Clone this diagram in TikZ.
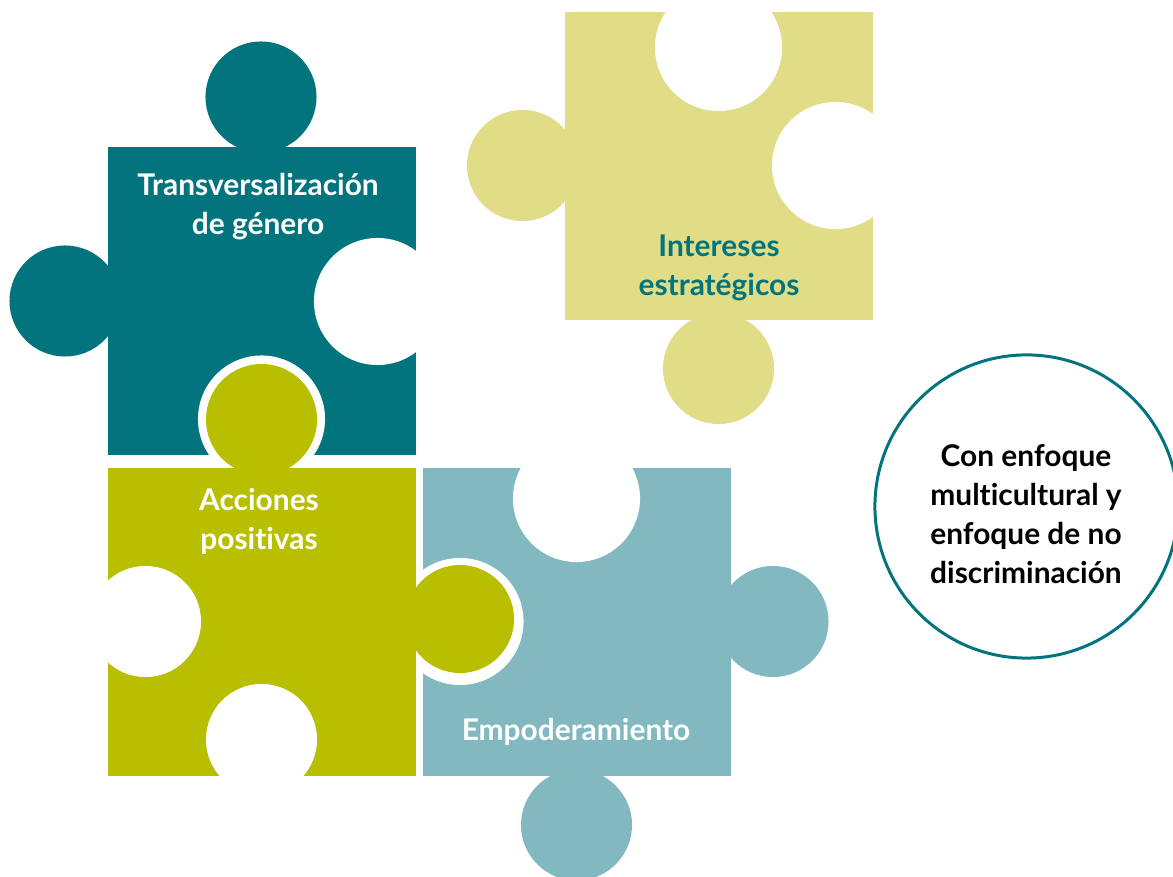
\documentclass[tikz,border=0pt]{standalone}
\usepackage{fontspec}
\setmainfont{Lato}[Ligatures={NoCommon}]
\definecolor{petroleo}{RGB}{2,116,126}
\definecolor{oliva}{RGB}{184,190,0}
\definecolor{paja}{RGB}{225,221,135}
\definecolor{celeste}{RGB}{130,185,193}
\tikzstyle{rotulo}=[
        align=center,
        font=\fontsize{8.5}{11.1}\selectfont\bfseries,
        text=white,
        inner sep=0pt
]
\tikzstyle{anillo}=[circle,draw=petroleo,line width=0.85pt,minimum size=3.03cm,inner sep=0pt]
\tikzstyle{hueco}=[fill=white]
\begin{document}
\begin{tikzpicture}[x=0.01cm,y=-0.01cm]
\useasboundingbox (0,0) rectangle (1173,877);
%pieza petroleo
\fill[petroleo] (108,147) rectangle (416,455);
\fill[petroleo] (261,97) circle (0.555cm);
\fill[petroleo] (65,301) circle (0.555cm);
\fill[hueco] (377.5,301.5) circle (0.635cm);
%pieza paja
\fill[paja] (565,12) rectangle (873,320);
\fill[paja] (522.5,165.5) circle (0.555cm);
\fill[paja] (718.5,368.5) circle (0.555cm);
\fill[hueco] (718.5,47.5) circle (0.635cm);
\fill[hueco] (835.5,165.5) circle (0.635cm);
%pieza celeste
\fill[celeste] (423,468) rectangle (731,776);
\fill[celeste] (773,621.5) circle (0.555cm);
\fill[celeste] (576.5,825) circle (0.555cm);
\fill[hueco] (576.5,498.5) circle (0.635cm);
%pieza oliva, con sus bordes blancos
\fill[hueco] (261.5,419) circle (0.635cm);
\fill[hueco] (460,621.5) circle (0.635cm);
\fill[oliva] (108,468) rectangle (416,776);
\fill[oliva] (261.5,419.5) circle (0.555cm);
\fill[oliva] (460,619) circle (0.54cm);
\fill[hueco] (145.5,621.5) circle (0.555cm);
\fill[hueco] (261.5,739.5) circle (0.555cm);
%textos
\node[rotulo] (transv) at (258,207) {Transversalización\\de género};
\node[rotulo,text=petroleo] (intereses) at (719,268) {Intereses\\estratégicos};
\node[rotulo] (acciones) at (259,521) {Acciones\\positivas};
\node[rotulo] (empodera) at (576,732) {Empoderamiento};
\node[anillo] (anillo) at (1026.5,506.5) {};
\node[rotulo,text=black] (enfoque) at (1026,514) {Con enfoque\\multicultural y\\enfoque de no\\discriminación};
\end{tikzpicture}
\end{document}
